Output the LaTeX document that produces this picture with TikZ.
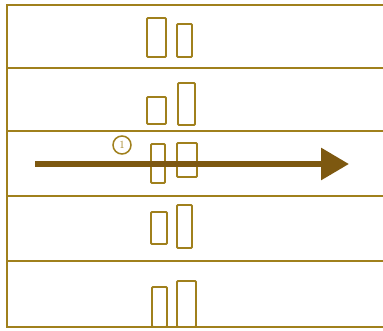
\documentclass[tikz,border=0pt]{standalone}
\usetikzlibrary{arrows.meta}
\definecolor{gold}{RGB}{160,128,28}
\definecolor{brownarrow}{RGB}{125,88,16}
\begin{document}
\begin{tikzpicture}[x=1pt,y=-1pt,
  frameline/.style={draw=gold,line width=2.2pt},
  slot/.style={draw=gold,line width=1.8pt,rounded corners=1pt},
  bigarrow/.style={draw=brownarrow,line width=6pt,-{Triangle[length=28pt,width=31pt]}}]
\useasboundingbox (0,0) rectangle (383,331);
\fill[white] (0,0) rectangle (383,331);
% frame
\draw[frameline] (383,5) -- (7,5) -- (7,327) -- (383,327);
\draw[frameline] (7,68) -- (383,68);
\draw[frameline] (7,131) -- (383,131);
\draw[frameline] (7,196) -- (383,196);
\draw[frameline] (7,261) -- (383,261);
% slots
\draw[slot] (147,18) rectangle (166,57);
\draw[slot] (177,24) rectangle (192,57);
\draw[slot] (147,97) rectangle (166,124);
\draw[slot] (178,83) rectangle (195,125);
\draw[slot] (151,144) rectangle (165,183);
\draw[slot] (177,143) rectangle (197,177);
\draw[slot] (151,212) rectangle (167,244);
\draw[slot] (177,205) rectangle (192,248);
\draw[slot] (152,287) rectangle (167,327);
\draw[slot] (177,281) rectangle (196,327);
% arrow
\coordinate (s) at (35,164);
\coordinate (e) at (349,164);
\draw[bigarrow] (s) -- (e);
\node[circle,draw=gold,line width=1.5pt,minimum size=18pt,inner sep=0pt,text=gold,font=\fontsize{11}{11}\selectfont] (n1) at (122,145) {1};
\end{tikzpicture}
\end{document}
